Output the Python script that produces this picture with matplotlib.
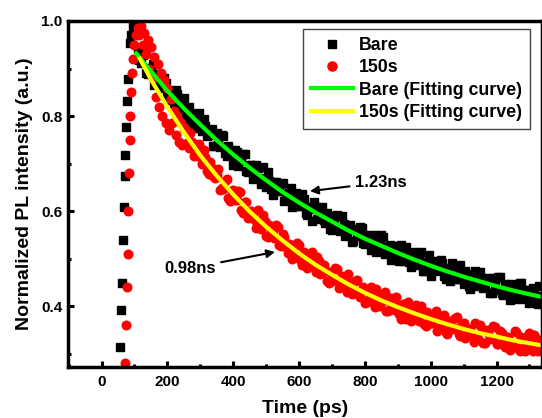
import matplotlib
matplotlib.use("Agg")
import matplotlib.pyplot as plt
from matplotlib.ticker import MultipleLocator

plt.rcParams['font.family'] = ['Liberation Sans', 'DejaVu Sans']
plt.rcParams['font.weight'] = 'bold'

# Bare sample (black squares): rise + decay, time in ps
bare_t = [56, 59, 62, 65, 68, 70, 72, 75, 77, 81, 86, 90, 95, 100, 104,
          110, 120, 130, 140, 150, 160, 170, 180, 190, 200,
          210, 220, 230, 240, 250, 260, 270, 280, 290, 300,
          310, 320, 330, 340, 350, 360, 370, 380, 390, 400,
          410, 420, 430, 440, 450, 460, 470, 480, 490, 500,
          510, 520, 530, 540, 550, 560, 570, 580, 590, 600,
          610, 620, 630, 640, 650, 660, 670, 680, 690, 700,
          710, 720, 730, 740, 750, 760, 770, 780, 790, 800,
          810, 820, 830, 840, 850, 860, 870, 880, 890, 900,
          910, 920, 930, 940, 950, 960, 970, 980, 990, 1000,
          1010, 1020, 1030, 1040, 1050, 1060, 1070, 1080, 1090, 1100,
          1110, 1120, 1130, 1140, 1150, 1160, 1170, 1180, 1190, 1200,
          1210, 1220, 1230, 1240, 1250, 1260, 1270, 1280, 1290, 1300,
          1310, 1320, 1330, 1340]
bare_y = [0.314, 0.392, 0.448, 0.539, 0.608, 0.674, 0.718, 0.777, 0.832, 0.879, 0.954, 0.97, 0.99, 1.0, 0.975,
          0.944, 0.912, 0.933, 0.888, 0.898, 0.865, 0.888, 0.867, 0.880, 0.841,
          0.853, 0.820, 0.847, 0.815, 0.838, 0.794, 0.806, 0.775, 0.800, 0.780,
          0.794, 0.757, 0.769, 0.738, 0.765, 0.735, 0.759, 0.716, 0.729, 0.698,
          0.724, 0.706, 0.721, 0.685, 0.698, 0.668, 0.697, 0.667, 0.692, 0.650,
          0.664, 0.634, 0.661, 0.643, 0.659, 0.624, 0.638, 0.609, 0.638, 0.610,
          0.636, 0.595, 0.609, 0.580, 0.608, 0.591, 0.608, 0.574, 0.589, 0.560,
          0.590, 0.562, 0.589, 0.548, 0.563, 0.535, 0.563, 0.547, 0.564, 0.530,
          0.546, 0.518, 0.549, 0.522, 0.549, 0.509, 0.525, 0.497, 0.526, 0.510,
          0.528, 0.494, 0.511, 0.483, 0.514, 0.487, 0.515, 0.475, 0.492, 0.464,
          0.494, 0.478, 0.497, 0.463, 0.480, 0.453, 0.485, 0.458, 0.486, 0.447,
          0.464, 0.437, 0.467, 0.452, 0.471, 0.438, 0.455, 0.428, 0.460, 0.434,
          0.462, 0.423, 0.441, 0.414, 0.444, 0.429, 0.449, 0.416, 0.434, 0.407,
          0.439, 0.414, 0.442, 0.404]
# in-between samples of the Bare decay
bare_mid_t = [115, 125, 135, 145, 155, 165, 175, 185, 195, 205, 215, 225, 235, 245, 255,
              265, 275, 285, 295, 305, 315, 325, 335, 345, 355, 365, 375, 385, 395, 405,
              415, 425, 435, 445, 455, 465, 475, 485, 495, 505, 515, 525, 535, 545, 555,
              565, 575, 585, 595, 605, 615, 625, 635, 645, 655, 665, 675, 685, 695, 705,
              715, 725, 735, 745, 755, 765, 775, 785, 795, 805, 815, 825, 835, 845, 855,
              865, 875, 885, 895, 905, 915, 925, 935, 945, 955, 965, 975, 985, 995, 1005,
              1015, 1025, 1035, 1045, 1055, 1065, 1075, 1085, 1095, 1105, 1115, 1125, 1135, 1145, 1155,
              1165, 1175, 1185, 1195, 1205, 1215, 1225, 1235, 1245, 1255, 1265, 1275, 1285, 1295, 1305,
              1315, 1325, 1335]
bare_mid_y = [0.918, 0.929, 0.890, 0.901, 0.910, 0.871, 0.881, 0.859, 0.870, 0.833, 0.844, 0.855, 0.816, 0.828, 0.807,
              0.819, 0.782, 0.795, 0.806, 0.768, 0.780, 0.760, 0.772, 0.736, 0.748, 0.760, 0.723, 0.736, 0.716, 0.729,
              0.694, 0.707, 0.720, 0.683, 0.697, 0.678, 0.691, 0.656, 0.670, 0.683, 0.647, 0.661, 0.642, 0.656, 0.621,
              0.636, 0.649, 0.614, 0.628, 0.610, 0.625, 0.591, 0.605, 0.619, 0.584, 0.599, 0.582, 0.597, 0.563, 0.578,
              0.592, 0.558, 0.573, 0.555, 0.571, 0.537, 0.553, 0.567, 0.533, 0.549, 0.532, 0.548, 0.515, 0.531, 0.546,
              0.512, 0.528, 0.511, 0.527, 0.494, 0.510, 0.525, 0.492, 0.508, 0.491, 0.507, 0.475, 0.491, 0.507, 0.473,
              0.490, 0.473, 0.490, 0.457, 0.474, 0.490, 0.457, 0.473, 0.457, 0.474, 0.442, 0.459, 0.475, 0.442, 0.459,
              0.443, 0.460, 0.428, 0.445, 0.461, 0.428, 0.446, 0.430, 0.447, 0.415, 0.433, 0.449, 0.417, 0.434, 0.418,
              0.436, 0.404, 0.422]

# 150s sample (red circles)
s150_t = [70, 73, 76, 79, 80, 83, 85, 87, 90, 92, 96, 100, 105,
          110, 115, 120, 125, 130, 135, 140, 145, 150, 155, 160, 165, 170, 175,
          180, 185, 190, 195, 200, 205, 210, 215, 220, 225, 230, 235, 240, 245, 250,
          260, 270, 280, 290, 300, 310, 320, 330, 340, 350, 360, 370, 380, 390, 400,
          410, 420, 430, 440, 450, 460, 470, 480, 490, 500,
          510, 520, 530, 540, 550, 560, 570, 580, 590, 600,
          610, 620, 630, 640, 650, 660, 670, 680, 690, 700,
          710, 720, 730, 740, 750, 760, 770, 780, 790, 800,
          810, 820, 830, 840, 850, 860, 870, 880, 890, 900,
          910, 920, 930, 940, 950, 960, 970, 980, 990, 1000,
          1010, 1020, 1030, 1040, 1050, 1060, 1070, 1080, 1090, 1100,
          1110, 1120, 1130, 1140, 1150, 1160, 1170, 1180, 1190, 1200,
          1210, 1220, 1230, 1240, 1250, 1260, 1270, 1280, 1290, 1300,
          1310, 1320, 1330, 1340]
s150_y = [0.28, 0.36, 0.44, 0.51, 0.60, 0.68, 0.75, 0.80, 0.85, 0.89, 0.92, 0.95, 0.97,
          0.985, 0.97, 0.99, 0.95, 0.975, 0.93, 0.96, 0.90, 0.945, 0.88, 0.925, 0.84, 0.91, 0.82,
          0.89, 0.80, 0.875, 0.785, 0.86, 0.77, 0.835, 0.785, 0.81, 0.76, 0.80, 0.745, 0.785, 0.74, 0.775,
          0.744, 0.764, 0.716, 0.736, 0.713, 0.729, 0.684, 0.704, 0.673, 0.677, 0.644, 0.646, 0.668, 0.622, 0.644,
          0.624, 0.641, 0.597, 0.619, 0.590, 0.596, 0.564, 0.568, 0.591, 0.547,
          0.570, 0.551, 0.570, 0.528, 0.551, 0.524, 0.530, 0.500, 0.504, 0.529,
          0.486, 0.510, 0.493, 0.513, 0.471, 0.496, 0.470, 0.477, 0.448, 0.454,
          0.480, 0.438, 0.463, 0.446, 0.467, 0.426, 0.452, 0.426, 0.435, 0.406,
          0.413, 0.440, 0.398, 0.424, 0.408, 0.430, 0.390, 0.417, 0.392, 0.401,
          0.373, 0.381, 0.408, 0.368, 0.394, 0.379, 0.401, 0.362, 0.388, 0.364,
          0.374, 0.347, 0.354, 0.382, 0.342, 0.369, 0.354, 0.377, 0.338, 0.365,
          0.341, 0.351, 0.325, 0.333, 0.361, 0.322, 0.349, 0.335, 0.358, 0.320,
          0.347, 0.324, 0.334, 0.308, 0.316, 0.345, 0.306, 0.333, 0.319, 0.343,
          0.305, 0.332, 0.309, 0.320]
# in-between samples of the 150s decay
s150_mid_t = [255, 265, 275, 285, 295, 305, 315, 325, 335, 345, 355, 365, 375, 385, 395,
              405, 415, 425, 435, 445, 455, 465, 475, 485, 495, 505, 515, 525, 535, 545,
              555, 565, 575, 585, 595, 605, 615, 625, 635, 645, 655, 665, 675, 685, 695,
              705, 715, 725, 735, 745, 755, 765, 775, 785, 795, 805, 815, 825, 835, 845,
              855, 865, 875, 885, 895, 905, 915, 925, 935, 945, 955, 965, 975, 985, 995,
              1005, 1015, 1025, 1035, 1045, 1055, 1065, 1075, 1085, 1095, 1105, 1115, 1125, 1135, 1145,
              1155, 1165, 1175, 1185, 1195, 1205, 1215, 1225, 1235, 1245, 1255, 1265, 1275, 1285, 1295,
              1305, 1315, 1325, 1335]
s150_mid_y = [0.771, 0.733, 0.745, 0.724, 0.741, 0.699, 0.714, 0.678, 0.691, 0.670, 0.689, 0.648, 0.664, 0.628, 0.643,
              0.624, 0.643, 0.603, 0.620, 0.585, 0.600, 0.582, 0.602, 0.563, 0.580, 0.546, 0.562, 0.544, 0.566, 0.527,
              0.546, 0.512, 0.529, 0.511, 0.533, 0.495, 0.514, 0.481, 0.499, 0.482, 0.504, 0.467, 0.487, 0.454, 0.472,
              0.456, 0.479, 0.442, 0.462, 0.430, 0.448, 0.433, 0.456, 0.420, 0.440, 0.409, 0.428, 0.412, 0.436, 0.400,
              0.421, 0.390, 0.409, 0.395, 0.419, 0.383, 0.404, 0.374, 0.393, 0.379, 0.403, 0.368, 0.389, 0.359, 0.378,
              0.364, 0.389, 0.354, 0.375, 0.345, 0.365, 0.351, 0.376, 0.341, 0.363, 0.333, 0.353, 0.340, 0.365, 0.330,
              0.352, 0.323, 0.344, 0.330, 0.356, 0.321, 0.343, 0.314, 0.335, 0.321, 0.347, 0.313, 0.335, 0.306, 0.327,
              0.314, 0.339, 0.305, 0.322]

# fitting curves
bare_fit_t = [105, 150, 200, 250, 300, 350, 400, 450, 500, 550, 600, 650, 700, 750, 800,
              850, 900, 950, 1000, 1050, 1100, 1150, 1200, 1250, 1300, 1340]
bare_fit_y = [0.932, 0.894, 0.853, 0.816, 0.782, 0.749, 0.719, 0.691, 0.665, 0.640, 0.618, 0.597, 0.578, 0.559, 0.542,
              0.527, 0.512, 0.498, 0.485, 0.473, 0.462, 0.452, 0.442, 0.433, 0.425, 0.419]
s150_fit_t = [116, 150, 200, 250, 300, 350, 400, 450, 500, 550, 600, 650, 700, 750, 800,
              850, 900, 950, 1000, 1050, 1100, 1150, 1200, 1250, 1300, 1340]
s150_fit_y = [0.921, 0.877, 0.819, 0.766, 0.717, 0.674, 0.635, 0.599, 0.567, 0.538, 0.511, 0.487, 0.466, 0.446, 0.428,
              0.412, 0.398, 0.385, 0.373, 0.362, 0.352, 0.343, 0.336, 0.328, 0.322, 0.317]

fig = plt.figure(figsize=(5.42, 4.18), dpi=100)
ax = fig.add_axes([68 / 542, 1 - 367 / 418, (542 - 68) / 542, (367 - 21) / 418])

ax.plot(bare_t + bare_mid_t, bare_y + bare_mid_y, ls='none', marker='s', ms=5.8, color='black', label='Bare')
ax.plot(s150_t + s150_mid_t, s150_y + s150_mid_y, ls='none', marker='o', ms=7.2, color='#ff0000', mec='none',
        label='150s')
ax.plot(bare_fit_t, bare_fit_y, color='#00ff00', lw=3, label='Bare (Fitting curve)')
ax.plot(s150_fit_t, s150_fit_y, color='#ffff00', lw=3, label='150s (Fitting curve)')

ax.set_xlim(-102, 1338)
ax.set_ylim(0.272, 1.0)
ax.xaxis.set_major_locator(MultipleLocator(200))
ax.xaxis.set_minor_locator(MultipleLocator(100))
ax.yaxis.set_major_locator(MultipleLocator(0.2))
ax.yaxis.set_minor_locator(MultipleLocator(0.1))
ax.set_yticks([0.4, 0.6, 0.8, 1.0])
ax.set_yticklabels(['0.4', '0.6', '0.8', '1.0'])

for sp in ax.spines.values():
    sp.set_linewidth(2.5)
ax.tick_params(which='both', direction='in', width=2.2, labelsize=11, top=False, right=False)
ax.tick_params(which='major', length=4.5, pad=6)
ax.tick_params(which='minor', length=2.5)
ax.tick_params(axis='y', pad=4)

ax.set_xlabel('Time (ps)', fontsize=14, fontweight='bold', labelpad=8)
ax.set_ylabel('Normalized PL intensity (a.u.)', fontsize=14, fontweight='bold', labelpad=6)

ax.annotate('1.23ns', xy=(633, 0.642), xytext=(770, 0.66), fontsize=12, fontweight='bold',
            ha='left', va='center',
            arrowprops=dict(arrowstyle='-|>', color='black', lw=1.5, mutation_scale=12, shrinkA=2, shrinkB=0))
ax.annotate('0.98ns', xy=(527, 0.514), xytext=(190, 0.48), fontsize=12, fontweight='bold',
            ha='left', va='center',
            arrowprops=dict(arrowstyle='-|>', color='black', lw=1.5, mutation_scale=12, shrinkA=2, shrinkB=0))

leg = ax.legend(loc='upper right', bbox_to_anchor=(0.974, 0.977), borderaxespad=0,
                fontsize=12.8, handlelength=2.4, handletextpad=0.3, labelspacing=0.3,
                borderpad=0.45, fancybox=False, framealpha=1, markerscale=1.05)
leg.get_frame().set_edgecolor('#444444')
leg.get_frame().set_linewidth(1.0)

plt.savefig('out.png', dpi=100)
plt.close(fig)
